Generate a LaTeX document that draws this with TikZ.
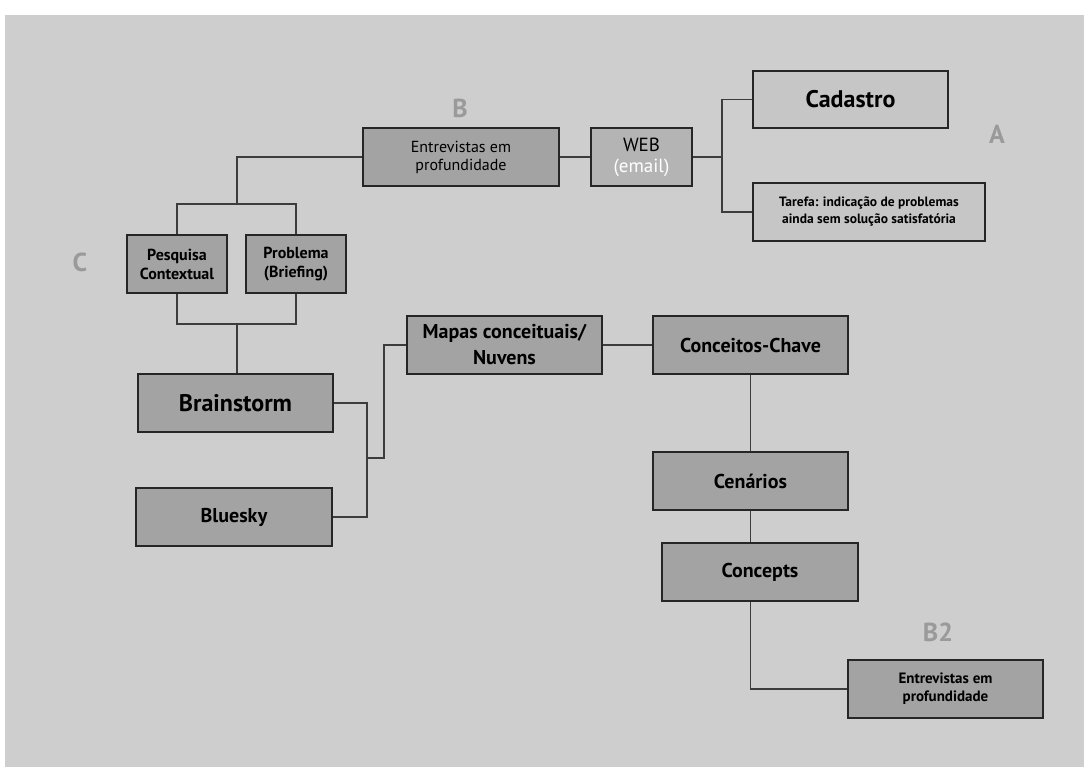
\documentclass[tikz,border=0pt]{standalone}
\usepackage{fontspec}
\setmainfont{PT Sans}
\usepackage{xcolor}
\usetikzlibrary{positioning}
\definecolor{panel}{HTML}{CECECE}
\definecolor{boxdark}{HTML}{A3A3A3}
\definecolor{boxmid}{HTML}{B4B4B4}
\definecolor{boxlight}{HTML}{C6C6C6}
\definecolor{tagcol}{HTML}{9A9A9A}
\definecolor{edge}{HTML}{262626}

\begin{document}
\begin{tikzpicture}[x=1pt,y=-1pt,
        box/.style={draw=edge,line width=1.6pt,fill=boxdark,align=center,inner sep=0pt},
        tag/.style={text=tagcol,font=\bfseries\fontsize{26}{28}\selectfont},
        conn/.style={draw=edge!90,line width=1.6pt}]
        \useasboundingbox (0,0) rectangle (1084,767);
        \fill[panel] (5,15) rectangle (1084,767);

        % upper branch
        \node [box,minimum width=196pt,minimum height=58pt,font=\fontsize{16}{18}\selectfont] (entr) at (461,157) {Entrevistas em\\profundidade};
        \node [box,fill=boxmid,minimum width=101pt,minimum height=58pt,font=\fontsize{19}{21}\selectfont] (web) at (641.5,157) {WEB\\\textcolor{white}{(email)}};
        \node [box,fill=boxlight,minimum width=195pt,minimum height=57pt,font=\bfseries\fontsize{24}{26}\selectfont] (cad) at (850.5,99.5) {Cadastro};
        \node [box,fill=boxlight,minimum width=232pt,minimum height=58pt,font=\bfseries\fontsize{13.5}{17}\selectfont] (tarefa) at (869,212) {Tarefa: indicação de problemas\\ainda sem solução satisfatória};
        \coordinate (fork) at (722,157);

        \coordinate (split) at (237,204);
        \coordinate (join) at (237,324);
        \node [box,minimum width=100pt,minimum height=58pt,font=\bfseries\fontsize{16}{19}\selectfont] (pesq) at (177,264) {Pesquisa\\Contextual};
        \node [box,minimum width=100pt,minimum height=58pt,font=\bfseries\fontsize{16}{19}\selectfont] (prob) at (296,264) {Problema\\(Briefing)};

        % lower branch
        \node [box,minimum width=195pt,minimum height=58pt,font=\bfseries\fontsize{24}{26}\selectfont] (brain) at (235.5,403) {Brainstorm};
        \node [box,minimum width=196pt,minimum height=58pt,font=\bfseries\fontsize{20}{22}\selectfont] (blue) at (234,517) {Bluesky};
        \coordinate (mid) at (367,458);
        \coordinate (mid2) at (384,458);
        \node [box,minimum width=195pt,minimum height=58pt,font=\bfseries\fontsize{20}{26}\selectfont] (mapas) at (504.5,345) {Mapas conceituais/\\Nuvens};
        \node [box,minimum width=195pt,minimum height=58pt,font=\bfseries\fontsize{20}{22}\selectfont] (chave) at (750.5,345) {Conceitos-Chave};
        \node [box,minimum width=195pt,minimum height=58pt,font=\bfseries\fontsize{20}{22}\selectfont] (cen) at (750.5,481) {Cenários};
        \node [box,minimum width=196pt,minimum height=58pt,font=\bfseries\fontsize{20}{22}\selectfont] (concepts) at (760,572) {Concepts};
        \node [box,minimum width=195pt,minimum height=58pt,font=\bfseries\fontsize{15}{18}\selectfont] (entr2) at (945.5,689) {Entrevistas em\\profundidade};

        \node [tag] (tA) at (997,134) {A};
        \node [tag] (tB) at (460,108) {B};
        \node [tag] (tC) at (80,262) {C};
        \node [tag] (tB2) at (938,632) {B2};

        \begin{scope}[every path/.style=conn]
            \draw (entr.east) -- (web.west);
            \draw (web.east) -- (fork);
            \draw (cad.west) -| (fork) |- (tarefa.west);
            \draw (entr.west) -| (split);
            \draw (pesq.north) |- (split) -| (prob.north);
            \draw (pesq.south) |- (join) -| (prob.south);
            \draw (join) -- (join |- brain.north);
            \draw (brain.east) -| (mid);
            \draw (blue.east) -| (mid);
            \draw (mid) -- (mid2) |- (mapas.west);
            \draw (mapas.east) -- (chave.west);
            \draw (chave.south) -- (cen.north);
            \draw (cen.south) -- (cen.south |- concepts.north);
            \draw (concepts.south -| cen.south) |- (entr2.west);
        \end{scope}
    \end{tikzpicture}
\end{document}
